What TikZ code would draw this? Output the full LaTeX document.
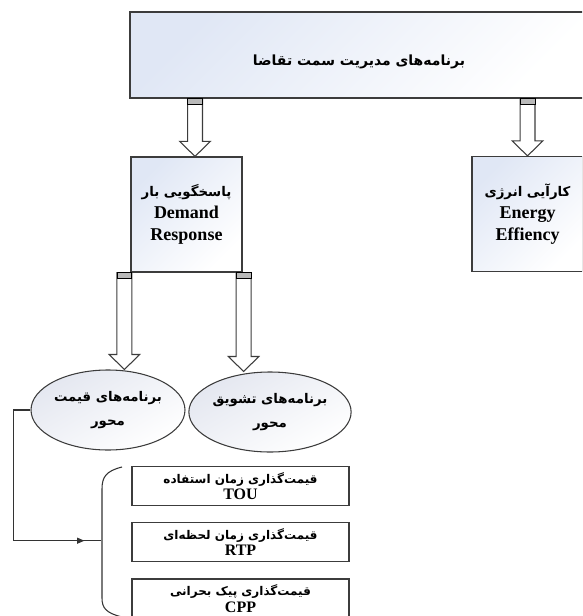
\documentclass[tikz,border=0pt]{standalone}
\usepackage{fontspec}
\setmainfont{Liberation Serif}
\newfontfamily\fafont[Script=Arabic]{DejaVu Sans}
\TeXXeTstate=1
\usetikzlibrary{calc,positioning,arrows.meta,shapes.geometric}

\definecolor{boxline}{RGB}{60,60,60}
\definecolor{boxblue}{RGB}{224,231,245}
\definecolor{ellgray}{RGB}{228,231,240}

\newcommand\fa[1]{{\fafont\beginR #1\endR}}
\newcommand\blockarr[2]{%
  \draw[blockarrow] let \p1=#1, \p2=#2 in
    (\x1-5.6pt,\y1) -- (\x1-5.6pt,\y2-11.25pt) -- (\x1-11.5pt,\y2-11.25pt) -- (\x1,\y2)
    -- (\x1+11.5pt,\y2-11.25pt) -- (\x1+5.6pt,\y2-11.25pt) -- (\x1+5.6pt,\y1) -- cycle;
  \draw[hat] let \p1=#1 in (\x1-5.6pt,\y1) rectangle (\x1+5.6pt,\y1+4.5pt);
}

\tikzset{
  shadedbox/.style={draw=boxline, line width=0.9pt, top color=boxblue, bottom color=white, shading angle=45, inner sep=0pt, align=center},
  listbox/.style={draw=boxline, line width=0.9pt, fill=white, minimum width=162.75pt, minimum height=29.25pt, inner sep=0pt, align=center, font=\fontsize{12}{12.5}\selectfont\bfseries},
  prog/.style={ellipse, draw=boxline, line width=0.8pt, top color=ellgray, bottom color=white, shading angle=30, minimum width=115.5pt, minimum height=60pt, inner sep=0pt, align=center, font=\fontsize{10}{18}\selectfont\bfseries},
  blockarrow/.style={draw=boxline, line width=0.8pt, fill=white},
  hat/.style={draw=black, line width=0.6pt, fill=gray!55},
  conn/.style={draw=black!80, line width=0.8pt},
}

\begin{document}
\begin{tikzpicture}[x=0.75pt,y=0.75pt,yscale=-1,xscale=1]
        \clip (0,0) rectangle (582,616);

        % top level
        \draw (359,55) node (dsm) [shadedbox, minimum width=343.5pt, minimum height=64.5pt, font=\fontsize{10.5}{13}\selectfont\bfseries] {\raisebox{-8pt}[0pt][0pt]{\fa{برنامه‌های مدیریت سمت تقاضا}}};

        % second level
        \draw (186.5,214.5) node (dr) [shadedbox, minimum width=83.25pt, minimum height=86.25pt, font=\fontsize{13.5}{16.5}\selectfont\bfseries] {{\fontsize{10}{16.5}\selectfont\fa{پاسخگویی بار}}\\Demand\\Response};
        \draw (527.5,214) node (ee) [shadedbox, minimum width=83.25pt, minimum height=86.25pt, font=\fontsize{13.5}{16.5}\selectfont\bfseries] {{\fontsize{10}{16.5}\selectfont\fa{کارآیی انرژی}}\\Energy\\Effiency};

        % programs
        \draw (108,410) node (price) [prog] {\fa{برنامه‌های قیمت}\\\fa{محور}};
        \draw (270,412) node (incent) [prog] {\fa{برنامه‌های تشویق}\\\fa{محور}};

        % pricing list
        \draw (240.5,486) node (tou) [listbox] {{\fontsize{9}{12.5}\selectfont\fa{قیمت‌گذاری زمان استفاده}}\\TOU};
        \node (rtp) [listbox, below=12pt of tou] {{\fontsize{9}{12.5}\selectfont\fa{قیمت‌گذاری زمان لحظه‌ای}}\\RTP};
        \node (cpp) [listbox, below=12pt of rtp] {{\fontsize{9}{12.5}\selectfont\fa{قیمت‌گذاری پیک بحرانی}}\\CPP};

        % block arrows
        \coordinate (drin) at ($(dr.north)+(8.5,0)$);
        \coordinate (drl) at ($(dr.south west)+(-6,0)$);
        \coordinate (drr) at ($(dr.south east)+(1,0)$);
        \blockarr{(dsm.south -| drin)}{(drin)}
        \blockarr{(dsm.south -| ee.north)}{(ee.north)}
        \blockarr{(drl)}{(price.north -| drl)}
        \blockarr{(drr)}{(incent.north -| drr)}

        % bracket
        \coordinate (bmid) at ($(rtp.west)+(-30,-1.5)$);
        \draw[conn] (122,467) .. controls (106,471) and (102,477) .. (102,489) -- (102,598) .. controls (102,608) and (106,613) .. (122,617);
        \draw[conn, -{Triangle[length=5.5pt,width=4.5pt]}] (price.west) -- ++(-17,0) |- ($(bmid)+(-17,0)$);
        \draw[conn, line width=1.1pt] ($(bmid)+(-18,0)$) -- (bmid);
    \end{tikzpicture}
\end{document}
